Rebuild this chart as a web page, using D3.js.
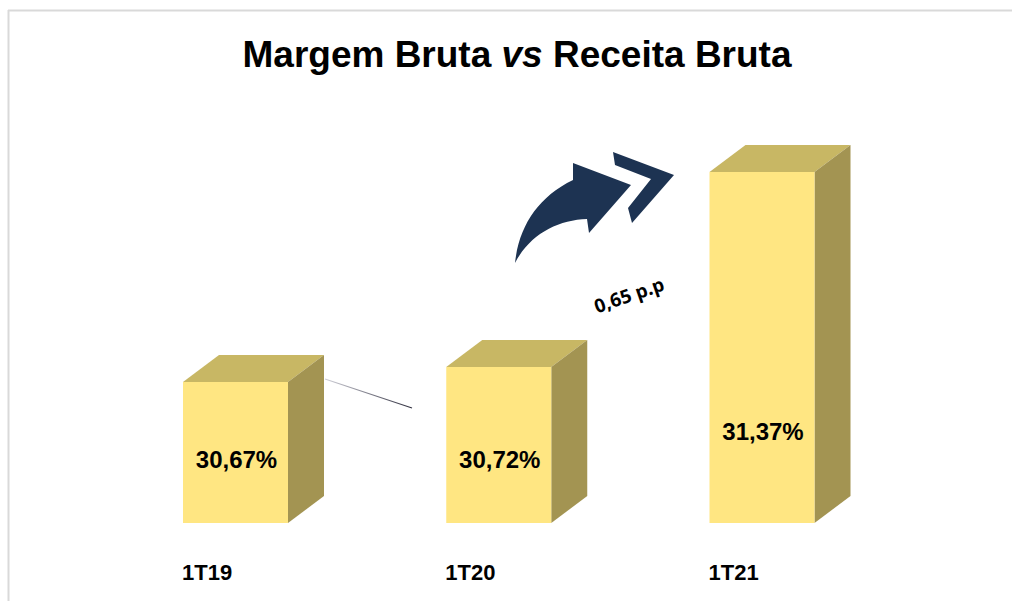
<!DOCTYPE html>
<html><head><meta charset="utf-8">
<script src="https://cdn.jsdelivr.net/npm/d3@7"></script>
<style>html,body{margin:0;padding:0;background:#fff;}svg{display:block;}</style>
</head><body>
<script>
const categories = ["1T19", "1T20", "1T21"];
const margins = [30.67, 30.72, 31.37];
const valueLabels = ["30,67%", "30,72%", "31,37%"];
const deltaLabel = "0,65 p.p";

const W = 1012, H = 601;
const svg = d3.select("body").append("svg").attr("width", W).attr("height", H)
  .style("font-family", "'Liberation Sans', Arial, sans-serif");

// frame
svg.append("line").attr("x1", 8).attr("x2", W).attr("y1", 10.5).attr("y2", 10.5).attr("stroke", "#d9d9d9").attr("stroke-width", 2);
svg.append("line").attr("x1", 8.5).attr("x2", 8.5).attr("y1", 10).attr("y2", H).attr("stroke", "#d9d9d9").attr("stroke-width", 2);

// title
const title = svg.append("text").attr("x", 517).attr("y", 67).attr("text-anchor", "middle")
  .attr("font-size", 37).attr("font-weight", "bold").attr("fill", "#000");
title.append("tspan").text("Margem Bruta ");
title.append("tspan").attr("font-style", "italic").text("vs");
title.append("tspan").text(" Receita Bruta");

const x = d3.scalePoint().domain(categories).range([235.5, 762]);
const y = d3.scaleLinear().domain([30.2, 31.4]).range([523, 163]);
const bw = 105, dx = 36, dy = -27;
const base = y(30.2);

const data = categories.map((c, i) => ({c, v: margins[i], label: valueLabels[i]}));

// thin connector line
const grad = svg.append("defs").append("linearGradient").attr("id", "lg")
  .attr("gradientUnits", "userSpaceOnUse").attr("x1", 325).attr("y1", 379).attr("x2", 412).attr("y2", 408);
grad.append("stop").attr("offset", "0").attr("stop-color", "#d0d0d8");
grad.append("stop").attr("offset", "1").attr("stop-color", "#303040");
svg.append("line").attr("x1", 325).attr("y1", 379).attr("x2", 412).attr("y2", 408)
  .attr("stroke", "url(#lg)").attr("stroke-width", 1.3);

const g = svg.append("g");
const bars = g.selectAll("g.bar").data(data).enter().append("g").attr("class", "bar");
// top face
bars.append("path").attr("fill", "#c8b764").attr("d", d => {
  const l = x(d.c) - bw / 2, r = l + bw, t = y(d.v);
  return `M${l},${t}L${l + dx},${t + dy}L${r + dx},${t + dy}L${r},${t}Z`;
});
// side face
bars.append("path").attr("fill", "#a39452").attr("d", d => {
  const r = x(d.c) + bw / 2, t = y(d.v);
  return `M${r},${t}L${r + dx},${t + dy}L${r + dx},${base + dy}L${r},${base}Z`;
});
// front face
bars.append("rect").attr("fill", "#ffe682")
  .attr("x", d => x(d.c) - bw / 2).attr("y", d => y(d.v))
  .attr("width", bw).attr("height", d => base - y(d.v));

// value labels
const labelBaselines = [468, 468, 440];
bars.append("text").attr("x", d => x(d.c) + 1).attr("y", (d, i) => labelBaselines[i])
  .attr("text-anchor", "middle").attr("font-size", 24).attr("font-weight", "bold")
  .attr("fill", "#000").text(d => d.label);

// category labels
svg.selectAll("text.cat").data(categories).enter().append("text").attr("class", "cat")
  .attr("x", d => x(d) - bw / 2 - 1).attr("y", 580)
  .attr("font-size", 22).attr("font-weight", "bold").attr("fill", "#000").text(d => d);

// arrow
svg.append("path").attr("fill", "#1d3352")
  .attr("d", "M515,263 C519,226 538,197 573,180 L573,163 L631,185 L589,233 L587,219 C558,220 530,234 515,263 Z");
svg.append("path").attr("fill", "#1d3352")
  .attr("d", "M613,152 L674,175 L632,223 L628,208 L651,179 L615,165 Z");

svg.append("text").attr("transform", "translate(629,295) rotate(-19)")
  .attr("text-anchor", "middle").attr("dominant-baseline", "central")
  .attr("font-family", "'Open Sans', 'Noto Sans', sans-serif")
  .attr("font-size", 19).attr("font-weight", "bold").attr("fill", "#000").text(deltaLabel);
</script>
</body></html>
